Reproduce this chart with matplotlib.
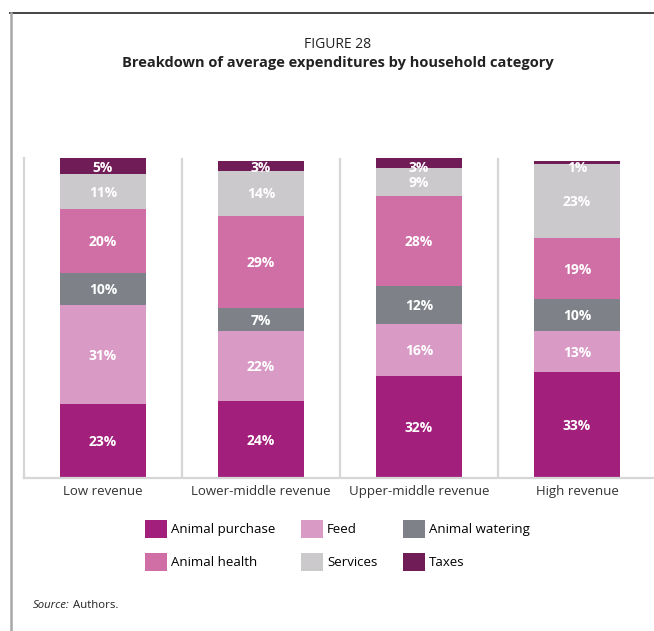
import numpy as np
import matplotlib
matplotlib.use("Agg")
from matplotlib import pyplot as plt
from matplotlib.patches import Patch
from matplotlib.lines import Line2D

plt.rcParams["font.family"] = ["Open Sans", "DejaVu Sans"]

categories = ["Low revenue", "Lower-middle revenue", "Upper-middle revenue", "High revenue"]

# shares of expenditure (%), stacked bottom to top
animal_purchase = [23, 24, 32, 33]
feed = [31, 22, 16, 13]
animal_watering = [10, 7, 12, 10]
animal_health = [20, 29, 28, 19]
services = [11, 14, 9, 23]
taxes = [5, 3, 3, 1]

series = [
    ("Animal purchase", animal_purchase, "#a2207c"),
    ("Feed", feed, "#d99bc6"),
    ("Animal watering", animal_watering, "#7e8188"),
    ("Animal health", animal_health, "#d06fa6"),
    ("Services", services, "#ccc9cd"),
    ("Taxes", taxes, "#6f1c57"),
]

W, H = 654, 631
fig = plt.figure(figsize=(W / 100, H / 100), dpi=100)
ax = fig.add_axes([24 / W, (H - 478) / H, 632 / W, 320 / H])

x = np.arange(len(categories))
bottom = np.zeros(len(categories))
for name, vals, col in series:
    vals = np.array(vals, dtype=float)
    ax.bar(x, vals, width=0.55, bottom=bottom, color=col, label=name, zorder=2)
    for xi, b, v in zip(x, bottom, vals):
        ymid = min(b + v / 2, 97.4)
        ax.text(xi, ymid - 0.4, "{:d}%".format(int(v)), ha="center", va="center",
                color="white", fontsize=10, fontweight="bold", zorder=3)
    bottom += vals

ax.set_xlim(-0.5, 3.5)
ax.set_ylim(0, 100)
for sep in x[:-1] + 0.5:
    ax.axvline(sep, color="#d6d6d6", lw=1.6, zorder=1)

for s in ("top", "right"):
    ax.spines[s].set_visible(False)
for s in ("left", "bottom"):
    ax.spines[s].set_color("#d6d6d6")
    ax.spines[s].set_linewidth(1.6)
ax.set_yticks([])
ax.set_xticks(x)
ax.set_xticklabels(categories, fontsize=9.5, color="#333333")
ax.tick_params(axis="x", length=0, pad=5)

fig.text(338 / W, 1 - 44 / H, "FIGURE 28", ha="center", va="center",
         fontsize=10, color="#222222")
fig.text(338 / W, 1 - 62.5 / H, "Breakdown of average expenditures by household category",
         ha="center", va="center", fontsize=10.5, fontweight="bold", color="#222222")

# legend filled column-wise: purchase/health, feed/services, watering/taxes
order = [0, 3, 1, 4, 2, 5]
handles = [Patch(facecolor=series[i][2], edgecolor="none") for i in order]
labels = [series[i][0] for i in order]
fig.legend(handles, labels, ncol=3, loc="upper left",
           bbox_to_anchor=(145 / W, 1 - 520 / H), frameon=False,
           fontsize=9.5, handlelength=1.67, handleheight=1.67,
           handletextpad=0.3, columnspacing=1.95, labelspacing=1.2,
           borderpad=0, borderaxespad=0)

fig.text(33 / W, 1 - 605 / H, "Source:", ha="left", va="center",
         fontsize=8.2, style="italic", color="#222222")
fig.text(73 / W, 1 - 605 / H, "Authors.", ha="left", va="center",
         fontsize=8.2, color="#222222")

# page frame
fig.add_artist(Line2D([10 / W, 1], [1 - 13 / H, 1 - 13 / H], color="#444444", lw=1.4))
fig.add_artist(Line2D([11 / W, 11 / W], [0, 1 - 13 / H], color="#a8a8a8", lw=1.8))

fig.savefig("out.png", dpi=100)
